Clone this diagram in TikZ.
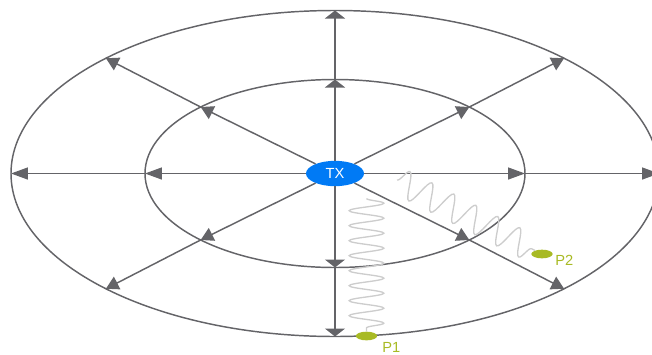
\documentclass[tikz,border=0pt]{standalone}
\usepackage{fontspec}
\setmainfont{Liberation Sans}
\usetikzlibrary{arrows.meta,shapes.geometric,decorations.pathmorphing}
\definecolor{RayGray}{RGB}{100,100,104}
\definecolor{TxBlue}{RGB}{0,122,245}
\definecolor{RxOlive}{RGB}{168,186,36}
\definecolor{WaveGray}{RGB}{205,205,205}

\begin{document}
\begin{tikzpicture}[x=0.75pt,y=0.75pt,
    ray/.style={RayGray,line width=1.1pt},
    wave/.style={WaveGray,line width=1pt,decorate},
    rxdot/.style={ellipse,fill=RxOlive,inner sep=0pt,minimum width=16pt,minimum height=6.5pt},
    rxlabel/.style={text=RxOlive,inner sep=0pt,anchor=base west,font=\fontsize{11}{12}\selectfont}]
  \useasboundingbox (-335,-180.5) rectangle (317,173.5);
  % the two rings
  \draw[ray] (0,0) ellipse [x radius=324,y radius=163];
  \draw[ray] (0,0) ellipse [x radius=190,y radius=94];
  \node[ellipse,fill=TxBlue,text=white,inner sep=0pt,minimum width=43.5pt,minimum height=19pt,
        font=\fontsize{11}{12}\selectfont] (TX) at (0,0) {TX};
  % rays: angle / tip length / tip width
  \foreach \a/\tl/\tw in {0/12.75/9,45/9.5/10.5,90/6/15,135/9.5/10.5,
                          180/12.75/9,225/9.5/10.5,270/6/15,315/9.5/10.5}{
    \coordinate (in\a) at (\a:190 and 94);
    \coordinate (out\a) at (\a:324 and 163);
    \draw[ray,-{Triangle[length=\tl pt,width=\tw pt]}] (TX) -- (in\a);
    \draw[ray,-{Triangle[length=\tl pt,width=\tw pt]}] (in\a) -- (out\a);
  }
  % receivers
  \node[rxdot] (P1) at (31.5,-162.5) {};
  \node[rxdot] (P2) at (207,-80.5) {};
  \node[rxlabel] (P1lab) at (47,-178.5) {P1};
  \node[rxlabel] (P2lab) at (220,-91.5) {P2};
  % multipath waves
  \coordinate (w1) at (31.5,-25);
  \coordinate (w2) at (62,-6.5);
  \draw[wave,decoration={snake,amplitude=13pt,segment length=11.25pt}] (w1) -- (P1);
  \draw[wave,decoration={snake,amplitude=10pt,segment length=18.5pt}] (w2) -- (P2);
\end{tikzpicture}
\end{document}
